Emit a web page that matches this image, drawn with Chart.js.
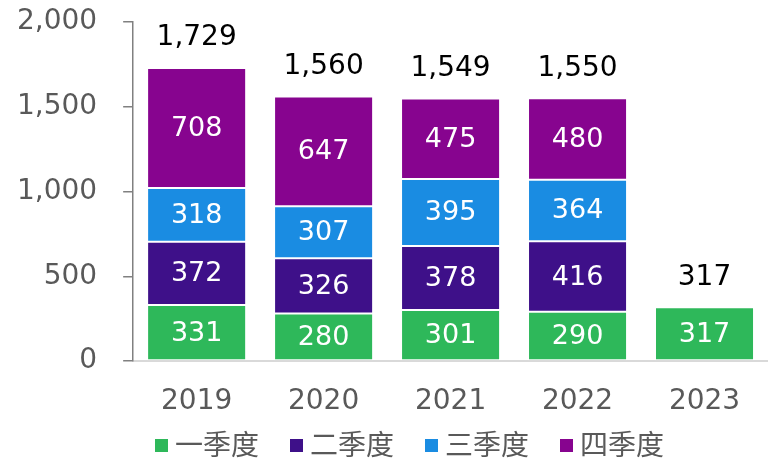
<!DOCTYPE html>
<html>
<head>
<meta charset="utf-8">
<script src="https://cdn.jsdelivr.net/npm/chart.js@4"></script>
<style>
html,body{margin:0;padding:0;background:#fff;}
#wrap{width:768px;height:459px;}
</style>
</head>
<body>
<div id="wrap"><canvas id="c" width="768" height="459"></canvas></div>
<script>
const categories = ['2019', '2020', '2021', '2022', '2023'];
const seriesNames = ['一季度', '二季度', '三季度', '四季度'];
const q1 = [331, 280, 301, 290, 317];
const q2 = [372, 326, 378, 416, null];
const q3 = [318, 307, 395, 364, null];
const q4 = [708, 647, 475, 480, null];
const totals = [1729, 1560, 1549, 1550, 317];
const yTicks = [0, 500, 1000, 1500, 2000];
const colors = ['#2EB85A', '#3E1089', '#1A8CE2', '#87048F'];

const FONT = '"DejaVu Sans", "Noto Sans CJK SC", sans-serif';

const labelPlugin = {
  id: 'labels',
  afterDatasetsDraw(chart) {
    const ctx = chart.ctx;
    ctx.save();
    ctx.textAlign = 'center';
    ctx.textBaseline = 'middle';
    chart.data.datasets.forEach((ds, di) => {
      const meta = chart.getDatasetMeta(di);
      meta.data.forEach((bar, i) => {
        const v = ds.data[i];
        if (v == null) return;
        const y = (bar.y + bar.base) / 2;
        ctx.fillStyle = '#ffffff';
        ctx.font = '27px ' + FONT;
        ctx.fillText(v.toLocaleString('en-US'), bar.x, y + 1);
      });
    });
    const yScale = chart.scales.y;
    const meta0 = chart.getDatasetMeta(0);
    totals.forEach((t, i) => {
      const x = meta0.data[i].x;
      const y = yScale.getPixelForValue(t);
      ctx.fillStyle = '#000000';
      ctx.font = '28px ' + FONT;
      ctx.fillText(t.toLocaleString('en-US'), x, y - 30);
    });
    ctx.restore();
  }
};

// Legend drawn below the axis labels, from the datasets' labels and colours
const legendPlugin = {
  id: 'bottomLegend',
  afterDraw(chart) {
    const ctx = chart.ctx;
    ctx.save();
    ctx.font = '28px ' + FONT;
    ctx.textBaseline = 'middle';
    ctx.textAlign = 'left';
    let x = 155;
    const yc = 448;
    chart.data.datasets.forEach(ds => {
      ctx.fillStyle = ds.backgroundColor;
      ctx.fillRect(x, 439, 13, 13);
      ctx.fillStyle = '#595959';
      ctx.fillText(ds.label, x + 20, yc);
      x += 20 + ctx.measureText(ds.label).width + 31;
    });
    ctx.restore();
  }
};

const series = [q1, q2, q3, q4];
new Chart(document.getElementById('c'), {
  type: 'bar',
  data: {
    labels: categories,
    datasets: series.map((d, k) => ({
      label: seriesNames[k],
      data: d,
      backgroundColor: colors[k],
      borderColor: 'rgba(255,255,255,0.55)',
      borderWidth: 1,
      borderSkipped: false,
      categoryPercentage: 1,
      barPercentage: 0.78
    }))
  },
  options: {
    responsive: false,
    animation: false,
    devicePixelRatio: 1,
    layout: { padding: { left: 17, right: 0, top: 22, bottom: 0 } },
    plugins: {
      legend: { display: false },
      tooltip: { enabled: false }
    },
    scales: {
      x: {
        stacked: true,
        grid: { display: false, tickLength: 0 },
        border: { color: '#d9d9d9', width: 2 },
        ticks: { font: { family: FONT, size: 28 }, color: '#595959', padding: 24 },
        afterFit(scale) { scale.height = 98; }
      },
      y: {
        stacked: true,
        min: 0,
        max: 2000,
        afterBuildTicks(scale) { scale.ticks = yTicks.map(v => ({ value: v })); },
        grid: {
          display: true, drawOnChartArea: false, drawTicks: true,
          tickLength: 36, tickBorderDash: [0, 26, 10, 0],
          color: '#808080', lineWidth: 1.5
        },
        border: { color: '#808080', width: 1.5 },
        ticks: {
          font: { family: FONT, size: 28 },
          color: '#595959',
          padding: 0,
          callback: v => v.toLocaleString('en-US')
        }
      }
    }
  },
  plugins: [labelPlugin, legendPlugin]
});
</script>
</body>
</html>
